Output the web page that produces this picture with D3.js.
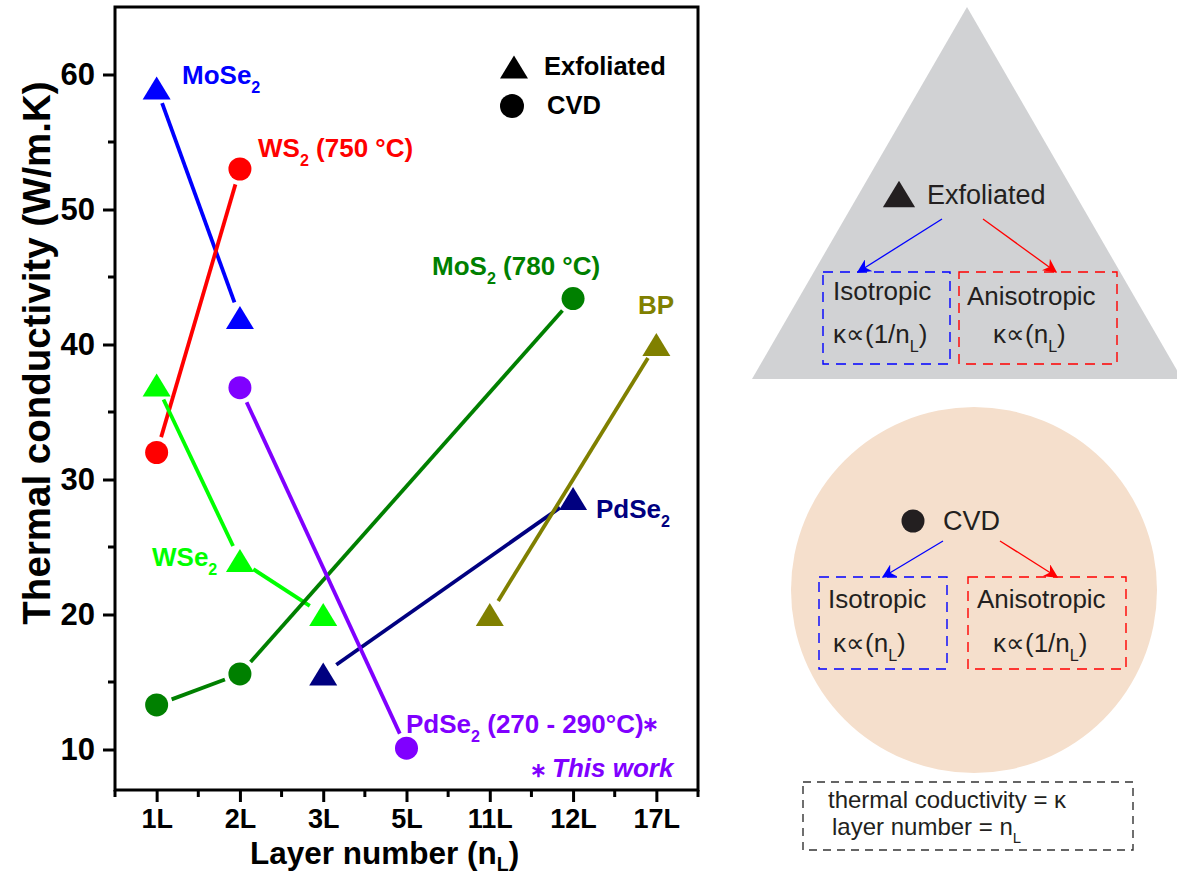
<!DOCTYPE html>
<html>
<head>
<meta charset="utf-8">
<script src="https://cdn.jsdelivr.net/npm/d3@7"></script>
<style>
  html, body { margin: 0; padding: 0; background: #fff; }
  svg { display: block; }
  text { font-family: "Liberation Sans", Arial, sans-serif; }
</style>
</head>
<body>
<svg id="chart" width="1177" height="876"></svg>
<script>
// Layer categories on the x axis and thermal conductivity ticks on the y axis
const layers = ["1L", "2L", "3L", "5L", "11L", "12L", "17L"];
const yTicks = [10, 20, 30, 40, 50, 60];

// Thermal conductivity (W/m.K) per material
const mose2Layers = ["1L", "2L"];
const mose2K = [59, 42];
const ws2Layers = ["1L", "2L"];
const ws2K = [32, 53];
const wse2Layers = ["1L", "2L", "3L"];
const wse2K = [37, 24, 20];
const pdse2CvdLayers = ["2L", "5L"];
const pdse2CvdK = [36.8, 10.1];
const mos2Layers = ["1L", "2L", "12L"];
const mos2K = [13.3, 15.6, 43.4];
const pdse2ExfLayers = ["3L", "12L"];
const pdse2ExfK = [15.6, 28.6];
const bpLayers = ["11L", "17L"];
const bpK = [20, 40];

const series = [
  { layers: mose2Layers, k: mose2K, color: "#0000ff", shape: "tri" },
  { layers: ws2Layers, k: ws2K, color: "#ff0000", shape: "circ" },
  { layers: wse2Layers, k: wse2K, color: "#00ff00", shape: "tri" },
  { layers: mos2Layers, k: mos2K, color: "#008000", shape: "circ" },
  { layers: pdse2ExfLayers, k: pdse2ExfK, color: "#000080", shape: "tri" },
  { layers: bpLayers, k: bpK, color: "#808000", shape: "tri" },
  { layers: pdse2CvdLayers, k: pdse2CvdK, color: "#8000ff", shape: "circ" }
];

const svg = d3.select("#chart");
const plot = { left: 115, right: 698, top: 7, bottom: 790 };

const x = d3.scalePoint().domain(layers).range([plot.left, plot.right]).padding(0.5);
const y = d3.scaleLinear().domain([7, 65]).range([plot.bottom, plot.top]);

// triangle marker centred on its bounding box
const triangleType = {
  draw(ctx, size) {
    const w = 28, h = 23;
    ctx.moveTo(0, -h / 2);
    ctx.lineTo(w / 2, h / 2);
    ctx.lineTo(-w / 2, h / 2);
    ctx.closePath();
  }
};

// connecting lines, stopping short of each marker
const gap = 16;
series.forEach(s => {
  const pts = s.layers.map((l, i) => [x(l), y(s.k[i])]);
  for (let i = 0; i < pts.length - 1; i++) {
    const [x0, y0] = pts[i], [x1, y1] = pts[i + 1];
    const len = Math.hypot(x1 - x0, y1 - y0);
    const ux = (x1 - x0) / len, uy = (y1 - y0) / len;
    svg.append("line")
      .attr("x1", x0 + ux * gap).attr("y1", y0 + uy * gap)
      .attr("x2", x1 - ux * gap).attr("y2", y1 - uy * gap)
      .attr("stroke", s.color).attr("stroke-width", 3.8);
  }
});

// markers
series.forEach(s => {
  const g = svg.append("g");
  s.layers.forEach((l, i) => {
    if (s.shape === "tri") {
      g.append("path")
        .attr("d", d3.symbol().type(triangleType)())
        .attr("transform", `translate(${x(l)},${y(s.k[i])})`)
        .attr("fill", s.color);
    } else {
      g.append("circle")
        .attr("cx", x(l)).attr("cy", y(s.k[i])).attr("r", 11.5)
        .attr("fill", s.color);
    }
  });
});

// frame
svg.append("rect")
  .attr("x", plot.left).attr("y", plot.top)
  .attr("width", plot.right - plot.left).attr("height", plot.bottom - plot.top)
  .attr("fill", "none").attr("stroke", "#000").attr("stroke-width", 3);

// y axis
const yAxis = d3.axisLeft(y).tickValues(yTicks).tickSize(12).tickPadding(8);
const gy = svg.append("g").attr("transform", `translate(${plot.left},0)`).call(yAxis);
gy.select(".domain").remove();
gy.selectAll(".tick line").attr("stroke-width", 3);
gy.selectAll(".tick text")
  .attr("font-family", "Liberation Sans, Arial, sans-serif")
  .attr("font-size", 31).attr("font-weight", "bold").attr("fill", "#000");
const yMinor = d3.range(15, 65, 10);
svg.append("g").selectAll("line").data(yMinor).join("line")
  .attr("x1", plot.left - 7).attr("x2", plot.left)
  .attr("y1", d => y(d)).attr("y2", d => y(d))
  .attr("stroke", "#000").attr("stroke-width", 3);

// x axis
const xAxis = d3.axisBottom(x).tickSize(12).tickPadding(7);
const gx = svg.append("g").attr("transform", `translate(0,${plot.bottom})`).call(xAxis);
gx.select(".domain").remove();
gx.selectAll(".tick line").attr("stroke-width", 3);
gx.selectAll(".tick text")
  .attr("font-family", "Liberation Sans, Arial, sans-serif")
  .attr("font-size", 27).attr("font-weight", "bold").attr("fill", "#000");
const step = x.step();
const xMinor = layers.map(l => x(l) - step / 2).concat([x(layers[layers.length - 1]) + step / 2]);
svg.append("g").selectAll("line").data(xMinor).join("line")
  .attr("x1", d => d).attr("x2", d => d)
  .attr("y1", plot.bottom).attr("y2", plot.bottom + 7)
  .attr("stroke", "#000").attr("stroke-width", 3);

// rich text helper: parts are [text, isSubscript]
function rich(sel, parts, fs, drop = 0.34) {
  const t = sel;
  let down = false;
  parts.forEach(([txt, sub]) => {
    const sp = t.append("tspan").text(txt);
    if (sub && !down) { sp.attr("dy", fs * drop).attr("font-size", fs * 0.62); down = true; }
    else if (!sub && down) { sp.attr("dy", -fs * drop); down = false; }
  });
  return t;
}

// axis titles
rich(svg.append("text")
  .attr("x", 250).attr("y", 864)
  .attr("font-size", 31.5).attr("font-weight", "bold"),
  [["Layer number (n", false], ["L", true], [")", false]], 31.5, 0.22);

svg.append("text")
  .attr("transform", "translate(50,353) rotate(-90)")
  .attr("text-anchor", "middle")
  .attr("font-size", 38.5).attr("font-weight", "bold")
  .text("Thermal conductivity (W/m.K)");

// series labels
const labels = [
  { x: 182, y: 84, c: "#0000ff", parts: [["MoSe", false], ["2", true]] },
  { x: 258, y: 157, c: "#ff0000", parts: [["WS", false], ["2", true], [" (750 °C)", false]] },
  { x: 432, y: 275, c: "#008000", parts: [["MoS", false], ["2", true], [" (780 °C)", false]] },
  { x: 638, y: 314, c: "#808000", parts: [["BP", false]] },
  { x: 596, y: 518, c: "#000080", parts: [["PdSe", false], ["2", true]] },
  { x: 152, y: 566, c: "#00ff00", parts: [["WSe", false], ["2", true]] },
  { x: 406, y: 733, c: "#8000ff", parts: [["PdSe", false], ["2", true], [" (270 - 290°C)", false]] }
];
labels.forEach(d => {
  rich(svg.append("text").attr("x", d.x).attr("y", d.y)
    .attr("font-size", 26).attr("font-weight", "bold").attr("fill", d.c), d.parts, 26);
});
// asterisk after the PdSe2 CVD label
svg.append("text").attr("x", 642).attr("y", 731)
  .attr("font-size", 20).attr("font-weight", "bold").attr("fill", "#8000ff").text("∗");
svg.append("text").attr("x", 530).attr("y", 777)
  .attr("font-size", 20).attr("font-weight", "bold").attr("fill", "#8000ff").text("∗");
svg.append("text").attr("x", 552).attr("y", 777)
  .attr("font-size", 26).attr("font-weight", "bold").attr("font-style", "italic")
  .attr("fill", "#8000ff").text("This work");

// legend
svg.append("path").attr("d", d3.symbol().type(triangleType)())
  .attr("transform", "translate(514,67)").attr("fill", "#000");
svg.append("circle").attr("cx", 512).attr("cy", 106).attr("r", 12).attr("fill", "#000");
svg.append("text").attr("x", 544).attr("y", 75).attr("font-size", 25.5).attr("font-weight", "bold").text("Exfoliated");
svg.append("text").attr("x", 547).attr("y", 114).attr("font-size", 25.5).attr("font-weight", "bold").text("CVD");

// ---- summary diagram ----
const defs = svg.append("defs");
[["arrBlue", "#0000ff"], ["arrRed", "#ff0000"]].forEach(([id, c]) => {
  defs.append("marker").attr("id", id)
    .attr("viewBox", "0 0 10 10").attr("refX", 9).attr("refY", 5)
    .attr("markerWidth", 14).attr("markerHeight", 14).attr("markerUnits", "userSpaceOnUse")
    .attr("orient", "auto")
    .append("path").attr("d", "M0,0 L10,5 L0,10 L3,5 Z").attr("fill", c);
});

const dg = svg.append("g");
const ink = "#231f20";

dg.append("path").attr("d", "M967,7 L752,379 L1182,379 Z").attr("fill", "#d1d2d4");
dg.append("circle").attr("cx", 974).attr("cy", 590).attr("r", 183).attr("fill", "#f5dfcc");

function panel(box) {
  dg.append("line").attr("x1", box.a1[0]).attr("y1", box.a1[1]).attr("x2", box.a1[2]).attr("y2", box.a1[3])
    .attr("stroke", "#0000ff").attr("stroke-width", 1.3).attr("marker-end", "url(#arrBlue)");
  dg.append("line").attr("x1", box.a2[0]).attr("y1", box.a2[1]).attr("x2", box.a2[2]).attr("y2", box.a2[3])
    .attr("stroke", "#ff0000").attr("stroke-width", 1.3).attr("marker-end", "url(#arrRed)");
  dg.append("rect").attr("x", box.b1[0]).attr("y", box.b1[1]).attr("width", box.b1[2]).attr("height", box.b1[3])
    .attr("fill", "none").attr("stroke", "#0000ff").attr("stroke-width", 1.4).attr("stroke-dasharray", "10,7");
  dg.append("rect").attr("x", box.b2[0]).attr("y", box.b2[1]).attr("width", box.b2[2]).attr("height", box.b2[3])
    .attr("fill", "none").attr("stroke", "#ff0000").attr("stroke-width", 1.4).attr("stroke-dasharray", "10,7");
  box.texts.forEach(t => {
    rich(dg.append("text").attr("x", t.x).attr("y", t.y).attr("font-size", 26).attr("fill", ink), t.parts, 26);
  });
}

panel({
  a1: [942, 219, 858, 272], a2: [983, 219, 1056, 272],
  b1: [823, 272, 127, 92], b2: [959, 272, 158, 92],
  texts: [
    { x: 833, y: 300, parts: [["Isotropic", false]] },
    { x: 833, y: 343, parts: [["κ∝(1/n", false], ["L", true], [")", false]] },
    { x: 967, y: 305, parts: [["Anisotropic", false]] },
    { x: 993, y: 343, parts: [["κ∝(n", false], ["L", true], [")", false]] }
  ]
});
dg.append("path").attr("d", d3.symbol().type(triangleType)())
  .attr("transform", "translate(899,194) scale(1.15,1.15)").attr("fill", ink);
dg.append("text").attr("x", 927).attr("y", 204).attr("font-size", 27).attr("fill", ink).text("Exfoliated");

panel({
  a1: [943, 541, 883, 577], a2: [1000, 541, 1057, 577],
  b1: [819, 577, 128, 92], b2: [968, 577, 158, 92],
  texts: [
    { x: 828, y: 608, parts: [["Isotropic", false]] },
    { x: 833, y: 652, parts: [["κ∝(n", false], ["L", true], [")", false]] },
    { x: 977, y: 608, parts: [["Anisotropic", false]] },
    { x: 993, y: 652, parts: [["κ∝(1/n", false], ["L", true], [")", false]] }
  ]
});
dg.append("circle").attr("cx", 913).attr("cy", 521).attr("r", 11.5).attr("fill", ink);
dg.append("text").attr("x", 943).attr("y", 530).attr("font-size", 27).attr("fill", ink).text("CVD");

dg.append("rect").attr("x", 803).attr("y", 782).attr("width", 330).attr("height", 68)
  .attr("fill", "none").attr("stroke", "#333").attr("stroke-width", 1.4).attr("stroke-dasharray", "8,6");
dg.append("text").attr("x", 828).attr("y", 808).attr("font-size", 24).attr("fill", ink).text("thermal coductivity = κ");
rich(dg.append("text").attr("x", 832).attr("y", 835).attr("font-size", 24).attr("fill", ink),
  [["layer number = n", false], ["L", true]], 24);
</script>
</body>
</html>
